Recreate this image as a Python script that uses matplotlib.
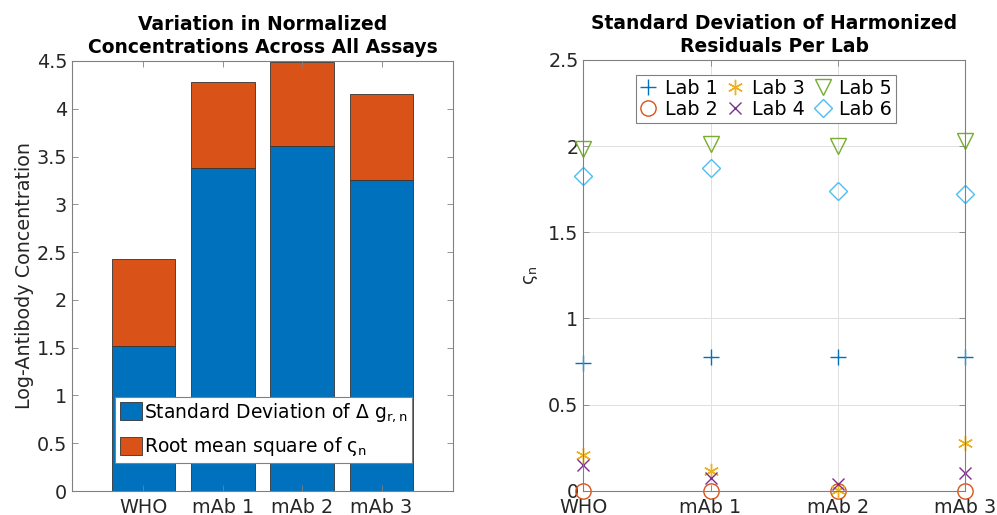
import numpy as np
import matplotlib
matplotlib.use('Agg')
import matplotlib.pyplot as plt
from matplotlib import rcParams

rcParams['font.family'] = 'DejaVu Sans'
rcParams['mathtext.fontset'] = 'dejavusans'
rcParams['xtick.direction'] = 'in'
rcParams['ytick.direction'] = 'in'

# matlab default colour order
c_blue = (0.0, 0.447, 0.741)
c_orange = (0.85, 0.325, 0.098)
c_yellow = (0.929, 0.694, 0.125)
c_purple = (0.494, 0.184, 0.556)
c_green = (0.466, 0.674, 0.188)
c_cyan = (0.301, 0.745, 0.933)
axcol = '0.15'

assays = ['WHO', 'mAb 1', 'mAb 2', 'mAb 3']
sd_dg = [1.52, 3.385, 3.615, 3.25]      # std of delta g_{r,n}
rms_s = [0.905, 0.90, 0.875, 0.905]     # rms of varsigma_n

lab1 = [0.739, 0.774, 0.778, 0.774]
lab2 = [0.0, 0.0, 0.0, 0.0]
lab3 = [0.205, 0.116, 0.005, 0.279]
lab4 = [0.149, 0.072, 0.039, 0.104]
lab5 = [1.983, 2.012, 2.0, 2.031]
lab6 = [1.826, 1.871, 1.741, 1.720]

fig = plt.figure(figsize=(9.97, 5.15), dpi=100)

def style(ax):
    for s in ax.spines.values():
        s.set_color('0.5')
        s.set_linewidth(0.8)
    ax.tick_params(colors='0.5', labelcolor=axcol, labelsize=13.8, top=True,
                   right=True, length=4, width=0.6)
    ax.tick_params(axis='x', pad=5)

# left: stacked bars
ax1 = fig.add_axes([0.0722, 0.0466, 0.3822, 0.835])
x = np.arange(1, len(assays) + 1)
ax1.bar(x, sd_dg, width=0.8, color=c_blue, edgecolor='0.2', linewidth=0.6,
        label=r'Standard Deviation of $\Delta$ g$_{\mathregular{r,n}}$')
ax1.bar(x, rms_s, bottom=sd_dg, width=0.8, color=c_orange, edgecolor='0.2',
        linewidth=0.6, label=r'Root mean square of ς$_{\mathregular{n}}$')
ax1.set_xlim(0.1, 4.9)
ax1.set_ylim(0, 4.5)
ax1.set_xticks(x)
ax1.set_xticklabels(assays)
ax1.set_yticks(np.arange(0, 4.51, 0.5))
ax1.set_yticklabels(['0', '0.5', '1', '1.5', '2', '2.5', '3', '3.5', '4', '4.5'])
ax1.set_ylabel('Log-Antibody Concentration', fontsize=13.8, color=axcol, labelpad=2)
ax1.set_title('Variation in Normalized\nConcentrations Across All Assays',
              fontsize=13.5, fontweight='bold', pad=6, linespacing=1.25)
style(ax1)
leg = ax1.legend(loc='lower left', bbox_to_anchor=(0.113, 0.065), fontsize=13.5,
                 frameon=True, fancybox=False, edgecolor='0.5', framealpha=1,
                 handlelength=1.2, handleheight=1.1, handletextpad=0.1,
                 borderpad=0.25, labelspacing=0.6, borderaxespad=0)
leg.get_frame().set_linewidth(0.8)

# right: per-lab standard deviation
ax2 = fig.add_axes([0.585, 0.0472, 0.3831, 0.8363])
ms = 11
ax2.plot(x, lab1, ls='none', marker='+', ms=ms, mew=1.0, color=c_blue, label='Lab 1')
ax2.plot(x, lab2, ls='none', marker='o', ms=ms, mew=1.0, mfc='none', color=c_orange, label='Lab 2')
ax2.plot(x, lab3, ls='none', marker=(6, 2, 0), ms=ms, mew=1.0, color=c_yellow, label='Lab 3')
ax2.plot(x, lab4, ls='none', marker='x', ms=ms * 0.8, mew=1.0, color=c_purple, label='Lab 4')
ax2.plot(x, lab5, ls='none', marker='v', ms=ms, mew=1.0, mfc='none', color=c_green, label='Lab 5')
ax2.plot(x, lab6, ls='none', marker='D', ms=ms * 0.8, mew=1.0, mfc='none', color=c_cyan, label='Lab 6')
for ln in ax2.lines:
    ln.set_clip_on(False)
ax2.set_xlim(1, 4)
ax2.set_ylim(0, 2.5)
ax2.set_xticks(x)
ax2.set_xticklabels(assays)
ax2.set_yticks(np.arange(0, 2.51, 0.5))
ax2.set_yticklabels(['0', '0.5', '1', '1.5', '2', '2.5'])
ax2.grid(True, color='0.88', linewidth=0.7)
ax2.set_axisbelow(True)
ax2.set_ylabel(r'ς$_{\mathregular{n}}$', fontsize=13, color=axcol, labelpad=6)
ax2.set_title('Standard Deviation of Harmonized\nResiduals Per Lab',
              fontsize=13.5, fontweight='bold', pad=6, linespacing=1.25)
style(ax2)
leg2 = ax2.legend(loc='upper center', bbox_to_anchor=(0.478, 0.965), ncol=3,
                  fontsize=13.8, frameon=True, fancybox=False, edgecolor='0.5',
                  framealpha=1, handlelength=0.9, handletextpad=0.4,
                  columnspacing=0.5, borderpad=0.2, labelspacing=0.1,
                  borderaxespad=0)
leg2.get_frame().set_linewidth(0.8)

plt.savefig('out.png', dpi=100)
